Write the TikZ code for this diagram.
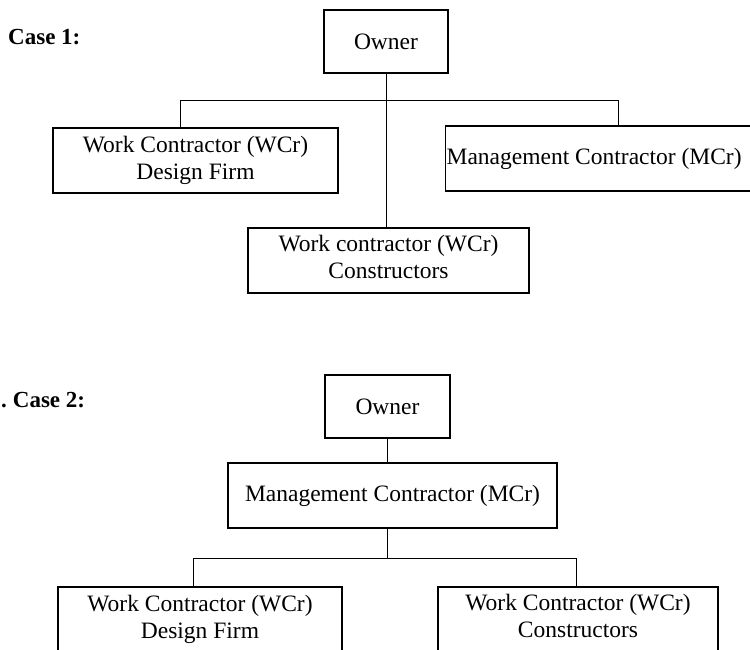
\documentclass[tikz,border=0pt]{standalone}
\usepackage{fontspec}
\setmainfont{Liberation Serif}
\usepackage{tikz}

\begin{document}
\begin{tikzpicture}[x=1pt, y=-1pt,
	box/.style={rectangle, draw, line width=1.3pt, align=center, inner sep=0pt, font=\fontsize{23.5}{27}\selectfont},
	link/.style={line width=0.8pt},
	caselabel/.style={anchor=west, inner sep=0pt, font=\fontsize{23}{27}\selectfont\bfseries}]
	
	\useasboundingbox (0,0) rectangle (750,650);
	
	% Case 1 nodes
	\node[caselabel] (case1) at (8,37) {Case 1:};
	\node[box, minimum width=124pt, minimum height=63pt] (owner1) at (386,41.5) {Owner};
	\node[box, minimum width=285pt, minimum height=65pt] (design1) at (195.5,160.5) {Work Contractor (WCr)\\Design Firm};
	\node[box, anchor=west, text width=309pt, align=flush left, inner xsep=1pt, minimum height=65pt] (mcr1) at (445,158.5) {Management Contractor (MCr)};
	\node[box, minimum width=281pt, minimum height=65pt] (constr1) at (388.5,260.5) {Work contractor (WCr)\\Constructors\strut};
	\coordinate (busL1) at (180,100);
	\coordinate (busR1) at (618,100);
	
	% Case 1 edges
	\draw[link] (owner1.south) -- (owner1.south |- constr1.north);
	\draw[link] (busL1 |- design1.north) -- (busL1) -- (busR1) -- (busR1 |- mcr1.north);
	
	% Case 2 nodes
	\node[caselabel] (case2) at (1,400) {.\hspace{6pt}Case 2:};
	\node[box, minimum width=125pt, minimum height=63pt] (owner2) at (387.5,406.5) {Owner};
	\node[box, minimum width=329pt, minimum height=65pt] (mcr2) at (392.5,495.5) {Management Contractor (MCr)};
	\node[box, minimum width=284pt, minimum height=65pt] (design2) at (200,619.5) {Work Contractor (WCr)\\Design Firm};
	\node[box, minimum width=280pt, minimum height=65pt] (constr2) at (578,619.5) {Work Contractor (WCr)\\Constructors\strut};
	\coordinate (busL2) at (193,558);
	\coordinate (busR2) at (576,558);
	
	% Case 2 edges
	\draw[link] (owner2.south) -- (owner2.south |- mcr2.north);
	\draw[link] (mcr2.south -| owner2.south) -- (owner2.south |- busL2);
	\draw[link] (busL2 |- design2.north) -- (busL2) -- (busR2) -- (busR2 |- constr2.north);
\end{tikzpicture}
\end{document}
